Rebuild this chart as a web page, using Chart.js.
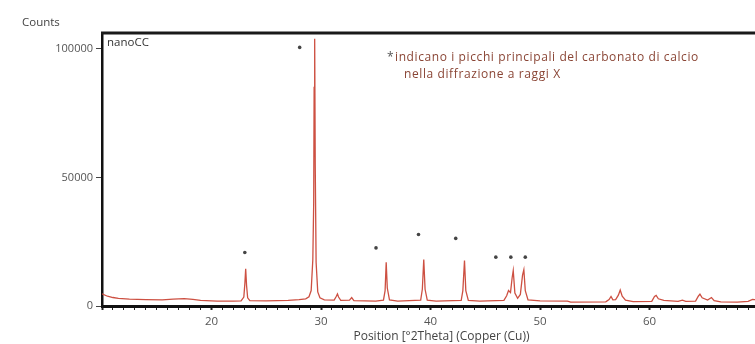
<!DOCTYPE html>
<html>
<head>
<meta charset="utf-8">
<script src="https://cdn.jsdelivr.net/npm/chart.js@4"></script>
<style>
  html, body { margin: 0; padding: 0; background: #fff; overflow: hidden; }
  #wrap { width: 786px; height: 344px; }
</style>
</head>
<body>
<div id="wrap"><canvas id="xrd" width="786" height="344"></canvas></div>
<script>
// diffractogram trace
const twoTheta = [
  10.0, 10.5, 11.0, 11.5, 12.5, 14.0, 15.5, 16.5, 17.5, 18.3, 19.0, 20.5, 22.0,
  22.7, 22.95, 23.05, 23.12, 23.2, 23.3, 23.5, 25.0, 27.0, 28.0, 28.6, 28.9,
  29.1, 29.25, 29.33, 29.37, 29.42, 29.47, 29.55, 29.7, 29.9, 30.3, 31.2, 31.4, 31.5,
  31.6, 31.8, 32.6, 32.8, 33.0, 35.0, 35.7, 35.85, 35.95, 36.05, 36.25, 37.0,
  39.1, 39.25, 39.38, 39.5, 39.7, 40.5, 42.8, 42.95, 43.1, 43.22, 43.45, 44.5,
  46.7, 46.95, 47.12, 47.3, 47.45, 47.55, 47.7, 47.95, 48.2, 48.4, 48.52, 48.65,
  48.9, 50.0, 52.5, 52.8, 56.0, 56.3, 56.48, 56.65, 56.9, 57.15, 57.32, 57.5,
  57.8, 58.5, 60.2, 60.45, 60.6, 60.8, 61.3, 62.6, 63.0, 63.3, 64.2, 64.45,
  64.6, 64.8, 65.3, 65.65, 65.9, 66.5, 68.0, 69.0, 69.4, 70.0, 72.0
];
const counts = [
  4700, 3800, 3300, 3000, 2700, 2500, 2400, 2700, 2900, 2600, 2200, 1900, 1900,
  2000, 3500, 9000, 14500, 8000, 3200, 2100, 2000, 2200, 2500, 2800, 3600,
  6000, 18000, 40000, 85000, 104000, 55000, 17000, 5500, 3200, 2400, 2300, 3800, 4700,
  3500, 2200, 2300, 3300, 2100, 1900, 2300, 6000, 17000, 7000, 2400, 1900,
  2300, 6500, 18100, 6500, 2300, 1900, 2200, 6000, 17700, 6000, 2200, 1900,
  2200, 4000, 6000, 5200, 11000, 13800, 5000, 3000, 4500, 12000, 14100, 6000,
  2400, 2000, 1900, 1500, 1600, 2500, 3700, 2400, 2500, 4200, 6200, 3800,
  2300, 1700, 1800, 3700, 4100, 2800, 2200, 1800, 2300, 1800, 1900, 3800,
  4600, 3200, 2300, 3300, 2100, 1600, 1500, 1800, 2600, 2300, 1800
];

// asterisks marking the main calcium carbonate peaks
const markX = [23.04, 28.05, 35.02, 38.9, 42.3, 45.96, 47.33, 48.65];
const markY = [20800, 100600, 22600, 27800, 26300, 19000, 19000, 19000];

const yTicks = [0, 50000, 100000];
const xLabelled = [20, 30, 40, 50, 60];
const xRange = [10, 72];
const yRange = [0, 106200];

const sampleName = "nanoCC";
const yTitle = "Counts";
const xTitle = "Position [°2Theta] (Copper (Cu))";
const noteLines = [
  "indicano i picchi principali del carbonato di calcio",
  "nella diffrazione a raggi X"
];

const FONT = "'Open Sans', 'DejaVu Sans', sans-serif";

const frame = {
  id: "frame",
  afterDraw(chart) {
    const { ctx, chartArea: a } = chart;
    ctx.save();
    // top border
    ctx.strokeStyle = "#1a1a1a";
    ctx.lineWidth = 3;
    ctx.beginPath();
    ctx.moveTo(a.left - 1, a.top);
    ctx.lineTo(a.right + 10, a.top);
    ctx.stroke();

    ctx.textBaseline = "middle";
    ctx.fillStyle = "#444";
    ctx.font = "11.5px " + FONT;
    ctx.fillText(yTitle, a.left - 80, a.top - 10);

    ctx.fillStyle = "#333";
    ctx.font = "11.5px " + FONT;
    ctx.fillText(sampleName, a.left + 5, a.top + 10);

    ctx.font = "12px " + FONT;
    ctx.letterSpacing = "0.6px";
    ctx.fillStyle = "#555";
    ctx.fillText("*", a.left + 285, a.top + 25);
    ctx.fillStyle = "#8a4535";
    ctx.fillText(noteLines[0], a.left + 293, a.top + 25);
    ctx.fillText(noteLines[1], a.left + 302, a.top + 42);
    ctx.restore();
  }
};

new Chart(document.getElementById("xrd"), {
  type: "line",
  data: {
    datasets: [
      {
        label: sampleName,
        data: twoTheta.map((x, i) => ({ x: x, y: counts[i] })),
        borderColor: "rgb(205,80,66)",
        borderWidth: 1.3,
        pointRadius: 0,
        tension: 0
      },
      {
        type: "scatter",
        label: "markers",
        data: markX.map((x, i) => ({ x: x, y: markY[i] })),
        pointRadius: 1.8,
        pointBackgroundColor: "#444",
        pointBorderWidth: 0
      }
    ]
  },
  options: {
    responsive: false,
    animation: false,
    layout: { padding: { top: 33, right: 4, left: 0, bottom: 0 } },
    plugins: { legend: { display: false }, tooltip: { enabled: false } },
    scales: {
      x: {
        type: "linear",
        min: xRange[0],
        max: xRange[1],
        afterFit: s => { s.height = 38; },
        afterBuildTicks: s => {
          const t = [];
          for (let v = xRange[0]; v <= xRange[1]; v++) t.push({ value: v });
          s.ticks = t;
        },
        border: { display: true, color: "#111", width: 3 },
        grid: {
          drawOnChartArea: false,
          drawTicks: true,
          tickLength: 4,
          tickColor: "#222",
          tickWidth: c => (c.tick && c.tick.value % 10 === 0 ? 2 : 1)
        },
        ticks: {
          autoSkip: false,
          maxRotation: 0,
          padding: 5,
          color: "#555",
          font: { family: FONT, size: 11.5 },
          callback: v => (xLabelled.includes(v) ? String(v) : "")
        },
        title: {
          display: true,
          text: xTitle,
          color: "#444",
          font: { family: FONT, size: 12 },
          padding: { top: -2, bottom: 0 }
        }
      },
      y: {
        type: "linear",
        min: yRange[0],
        max: yRange[1],
        afterFit: s => { s.width = 102; },
        afterBuildTicks: s => { s.ticks = yTicks.map(v => ({ value: v })); },
        border: { display: true, color: "#111", width: 2.5 },
        grid: {
          drawOnChartArea: false,
          drawTicks: true,
          tickLength: 6,
          tickColor: "#444"
        },
        ticks: {
          padding: 3,
          color: "#555",
          font: { family: FONT, size: 11 },
          callback: v => String(v)
        }
      }
    }
  },
  plugins: [frame]
});
</script>
</body>
</html>
